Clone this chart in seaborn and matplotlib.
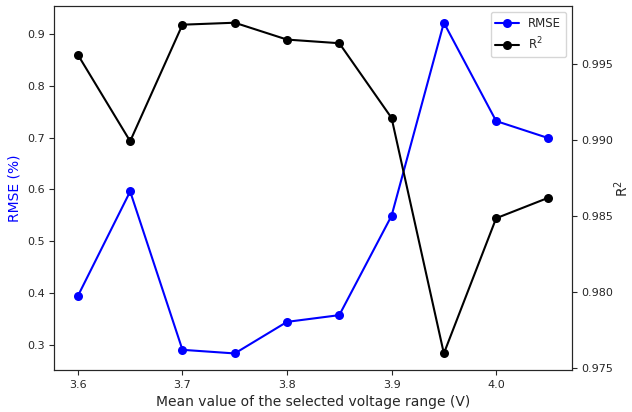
import matplotlib
matplotlib.use("Agg")
import matplotlib.pyplot as plt
import seaborn as sns
import pandas as pd

voltage = [3.6, 3.65, 3.7, 3.75, 3.8, 3.85, 3.9, 3.95, 4.0, 4.05]
rmse = [0.394, 0.596, 0.290, 0.283, 0.344, 0.357, 0.549, 0.922, 0.732, 0.699]
r2 = [0.99564, 0.98995, 0.99762, 0.99775, 0.99664, 0.99640, 0.99148, 0.97598, 0.98488, 0.98623]

df = pd.DataFrame({"V": voltage, "RMSE": rmse, "R2": r2})

sns.set_style("ticks")
plt.rcParams['font.family'] = ['DejaVu Sans']
plt.rcParams['xtick.labelsize'] = 8
plt.rcParams['ytick.labelsize'] = 8
fig, ax = plt.subplots(figsize=(6.32, 4.12), dpi=100)
fig.subplots_adjust(left=0.086, right=0.905, top=0.985, bottom=0.102)

sns.lineplot(data=df, x="V", y="RMSE", ax=ax, color="blue", marker="o",
             markersize=6.5, markeredgewidth=0, label="RMSE", legend=False)
ax2 = ax.twinx()
sns.lineplot(data=df, x="V", y="R2", ax=ax2, color="black", marker="o",
             markersize=6.5, markeredgewidth=0, label="R$^2$", legend=False)

ax.set_xlabel("Mean value of the selected voltage range (V)", fontsize=10)
ax.set_ylabel("RMSE (%)", color="blue", fontsize=10)
ax2.set_ylabel("R$^2$", fontsize=10, labelpad=-1)
ax.set_xticks([3.6, 3.7, 3.8, 3.9, 4.0])
ax.set_yticks([0.3, 0.4, 0.5, 0.6, 0.7, 0.8, 0.9])
ax2.set_yticks([0.975, 0.980, 0.985, 0.990, 0.995])
ax2.set_yticklabels(["0.975", "0.980", "0.985", "0.990", "0.995"])

h1, lb1 = ax.get_legend_handles_labels()
h2, lb2 = ax2.get_legend_handles_labels()
ax2.legend(h1 + h2, lb1 + lb2, loc="upper right", fontsize=8.5)

fig.savefig("out.png", dpi=100)
